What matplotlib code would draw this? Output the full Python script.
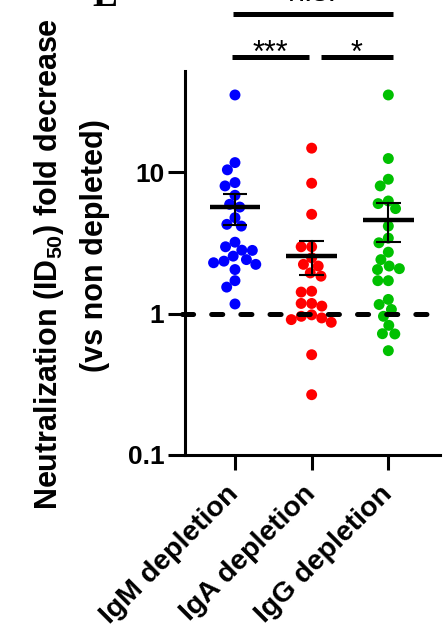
import numpy as np
import matplotlib
matplotlib.use("Agg")
import matplotlib.pyplot as plt
from matplotlib.transforms import blended_transform_factory

plt.rcParams['font.family'] = ['Liberation Sans', 'DejaVu Sans']
plt.rcParams['font.weight'] = 'bold'
plt.rcParams['mathtext.fontset'] = 'custom'
plt.rcParams['mathtext.rm'] = 'Liberation Sans:bold'
plt.rcParams['mathtext.bf'] = 'Liberation Sans:bold'
plt.rcParams['lines.scale_dashes'] = False

# values (fold decrease, log axis)
groups = ["IgM depletion", "IgA depletion", "IgG depletion"]
colors = ["#0000ff", "#ff0000", "#00c000"]
igm = [35.2, 11.7, 10.4, 8.45, 8.0, 6.87, 5.93, 5.67, 4.77, 4.28, 4.16, 3.2,
       2.97, 2.81, 2.80, 2.55, 2.41, 2.35, 2.29, 2.23, 2.05, 1.71, 1.54, 1.17]
iga = [14.8, 8.36, 5.04, 2.97, 2.97, 2.48, 2.23, 2.17, 1.94, 1.84, 1.44, 1.42,
       1.18, 1.18, 1.13, 0.98, 0.957, 0.932, 0.907, 0.868, 0.512, 0.267]
igg = [35.2, 12.5, 8.92, 8.0, 6.26, 6.0, 5.53, 4.16, 3.42, 3.17, 2.72, 2.41,
       2.17, 2.08, 2.05, 1.71, 1.71, 1.26, 1.16, 1.07, 0.957, 0.826, 0.721,
       0.718, 0.547]
data = [igm, iga, igg]
yticks = [0.1, 1, 10]
ytick_labels = ["0.1", "1", "10"]
comparisons = [("***", 0, 1, 0), ("*", 1, 2, 0), ("n.s.", 0, 2, 1)]

W, H = 443, 634
fig = plt.figure(figsize=(W / 100, H / 100), dpi=100)
ax = fig.add_axes([185 / W, 1 - 455 / H, (440 - 185) / W, (455 - 71) / H])
ax.set_yscale('log')
ax.set_xlim(-0.652, 2.674)
ax.set_ylim(0.1, 52)


def swarm(values, diam):
    # simple beeswarm in pixel space, returns x offsets in pixels
    ys = ax.transData.transform(np.column_stack([np.zeros(len(values)), values]))[:, 1]
    placed = []
    offs = np.zeros(len(values))
    for k in np.argsort(-ys):
        y = ys[k]
        cands = [0.0]
        for py, pdx in placed:
            dy = y - py
            if abs(dy) < diam:
                r = np.sqrt(diam ** 2 - dy ** 2)
                cands += [pdx + r, pdx - r]
        best = None
        for c in sorted(cands, key=lambda c: (abs(c), c)):
            if all((c - pdx) ** 2 + (y - py) ** 2 >= diam ** 2 - 1e-6 for py, pdx in placed):
                best = c
                break
        offs[k] = best
        placed.append((y, best))
    return offs


px_per_unit = ax.transData.transform((1, 1))[0] - ax.transData.transform((0, 1))[0]

for i, (vals, col) in enumerate(zip(data, colors)):
    dx = swarm(vals, 10.5) / px_per_unit
    ax.scatter(i + dx, vals, s=62, color=col, edgecolors='none', zorder=2, clip_on=False)
    m = np.mean(vals)
    sem = np.std(vals, ddof=1) / np.sqrt(len(vals))
    ax.plot([i - 0.33, i + 0.33], [m, m], color='k', lw=3.2, solid_capstyle='butt', zorder=3)
    ax.plot([i, i], [m - sem, m + sem], color='k', lw=1.5, zorder=3)
    for e in (m - sem, m + sem):
        ax.plot([i - 0.16, i + 0.16], [e, e], color='k', lw=1.5, solid_capstyle='butt', zorder=3)

ax.plot([-0.685, 2.52], [1, 1], color='k', lw=3.6, linestyle=(0, (8, 13)),
        dash_capstyle='round', zorder=4, clip_on=False)

for s in ('top', 'right'):
    ax.spines[s].set_visible(False)
for s in ('left', 'bottom'):
    ax.spines[s].set_linewidth(2.2)
ax.set_yticks(yticks)
ax.set_yticklabels(ytick_labels, fontsize=19, fontweight='bold')
ax.minorticks_off()
ax.tick_params(axis='y', length=12, width=2.2, pad=3)
ax.set_xticks(range(len(groups)))
ax.set_xticklabels(groups, rotation=45, ha='right', va='center',
                   rotation_mode='anchor', fontsize=20.5, fontweight='bold')
ax.tick_params(axis='x', length=11, width=2.2, pad=14)

fig.text(49 / W, 1 - 264 / H, "Neutralization (ID$_{50}$) fold decrease",
         rotation=90, ha='center', va='center', fontsize=22, fontweight='bold')
fig.text(95 / W, 1 - 246 / H, "(vs non depleted)",
         rotation=90, ha='center', va='center', fontsize=22, fontweight='bold')

# significance bars above the axes
tr = blended_transform_factory(ax.transData, fig.transFigure)
bar_pads = {(0, 1): (-0.04, -0.035), (1, 2): (0.12, 0.06), (0, 2): (-0.026, 0.06)}
bar_y = [1 - 57 / H, 1 - 13.7 / H]
text_y = [1 - 62 / H, 1 - 1 / H]
for lab, a, b, lev in comparisons:
    lo, hi = a + bar_pads[(a, b)][0], b + bar_pads[(a, b)][1]
    ax.plot([lo, hi], [bar_y[lev]] * 2, color='k', lw=3.6, solid_capstyle='butt',
            transform=tr, clip_on=False)
    ax.text((lo + hi) / 2, text_y[lev], lab, transform=tr, ha='center', va='baseline',
            fontsize=22, fontweight='normal')

fig.text(92 / W, 1 - 6 / H, "E", family=['Liberation Serif', 'DejaVu Serif'],
         fontsize=27, fontweight='bold', va='baseline', ha='left')

fig.savefig("out.png", dpi=100)
